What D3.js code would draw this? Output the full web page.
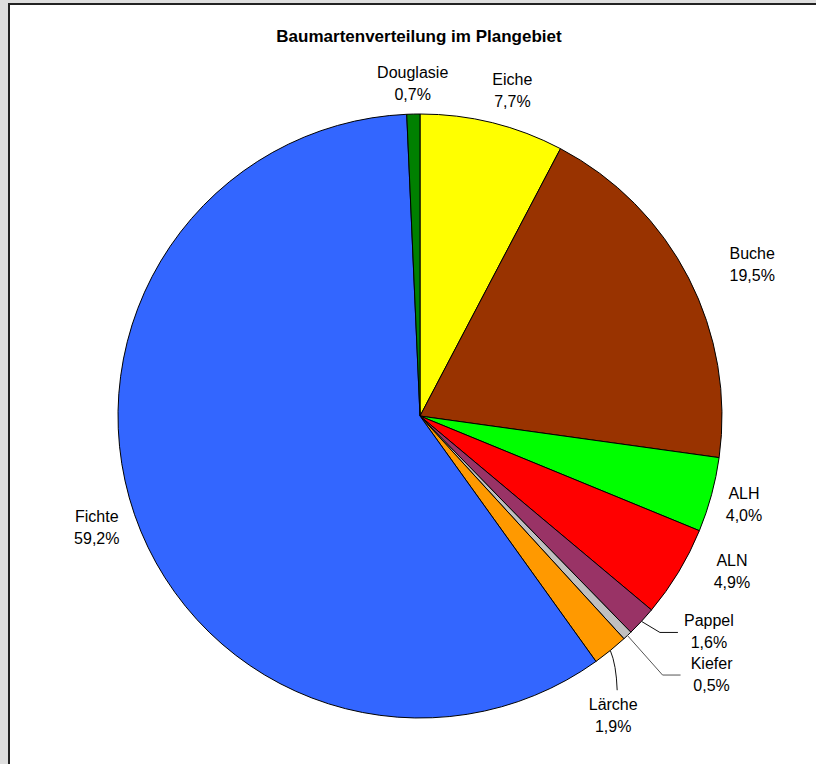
<!DOCTYPE html>
<html>
<head>
<meta charset="utf-8">
<script src="https://cdn.jsdelivr.net/npm/d3@7"></script>
<style>
  body { margin: 0; background: #dedede; }
  svg { display: block; font-family: "Liberation Sans", Arial, sans-serif; }
</style>
</head>
<body>
<div id="chart"></div>
<script>
// Baumarten im Uhrzeigersinn ab 12 Uhr
const species = ["Eiche", "Buche", "ALH", "ALN", "Pappel", "Kiefer", "Lärche", "Fichte", "Douglasie"];
const shares = [7.7, 19.5, 4.0, 4.9, 1.6, 0.5, 1.9, 59.2, 0.7];
const colors = ["#ffff00", "#993300", "#00ff00", "#ff0000", "#993366", "#c0c0c0", "#ff9900", "#3366ff", "#008000"];

const width = 816, height = 764;
const cx = 420, cy = 416, radius = 302;

// label placement: angle shift (deg) and distance from centre
const labelLayout = {
  "Eiche": [2, 338], "Buche": [2.7, 365], "ALH": [0.25, 336], "ALN": [-4.5, 349],
  "Pappel": [-6, 361], "Kiefer": [-5, 390], "Lärche": [6.3, 357],
  "Fichte": [0, 342], "Douglasie": [0, 332]
};
const leaders = { "Pappel": true, "Kiefer": true, "Lärche": true };

const svg = d3.select("#chart").append("svg")
  .attr("width", width)
  .attr("height", height);

svg.append("rect")
  .attr("x", 9).attr("y", 4)
  .attr("width", width).attr("height", height)
  .attr("fill", "#fff")
  .attr("stroke", "#222")
  .attr("stroke-width", 2);

svg.append("text")
  .attr("x", cx - 1).attr("y", 42)
  .attr("text-anchor", "middle")
  .style("font-size", "17px")
  .style("font-weight", "bold")
  .text("Baumartenverteilung im Plangebiet");

const data = species.map((s, i) => ({ name: s, value: shares[i], color: colors[i] }));

const pie = d3.pie().sort(null).value(d => d.value);
const arc = d3.arc().innerRadius(0).outerRadius(radius);
const arcs = pie(data);

const g = svg.append("g").attr("transform", `translate(${cx},${cy})`);

g.selectAll("path.slice")
  .data(arcs)
  .enter()
  .append("path")
  .attr("class", "slice")
  .attr("d", arc)
  .attr("fill", d => d.data.color)
  .attr("stroke", "#000")
  .attr("stroke-width", 1);

const polar = (ang, r) => [r * Math.sin(ang), -r * Math.cos(ang)];

arcs.forEach(d => {
  const mid = (d.startAngle + d.endAngle) / 2;
  const lay = labelLayout[d.data.name];
  const [lx, ly] = polar(mid + lay[0] * Math.PI / 180, lay[1]);

  if (leaders[d.data.name]) {
    const [ex, ey] = polar(mid, radius);
    let pts;
    if (d.data.name === "Lärche") {
      pts = `M${ex},${ey} Q${ex + 6},${ey + 14} ${lx + 4},${ly - 26}`;
    } else {
      pts = `M${ex},${ey} L${lx - 49},${ly} L${lx - 31},${ly}`;
    }
    g.append("path")
      .attr("d", pts)
      .attr("fill", "none")
      .attr("stroke", d.data.name === "Kiefer" ? "#555" : "#111")
      .attr("stroke-width", 1);
  }

  const t = g.append("text")
    .attr("text-anchor", "middle")
    .attr("transform", `translate(${lx},${ly})`)
    .style("font-size", "16px")
    .attr("fill", "#000");
  t.append("tspan").attr("x", 0).attr("y", -6).text(d.data.name);
  t.append("tspan").attr("x", 0).attr("y", 16)
    .text(d.data.value.toFixed(1).replace(".", ",") + "%");
});
</script>
</body>
</html>
